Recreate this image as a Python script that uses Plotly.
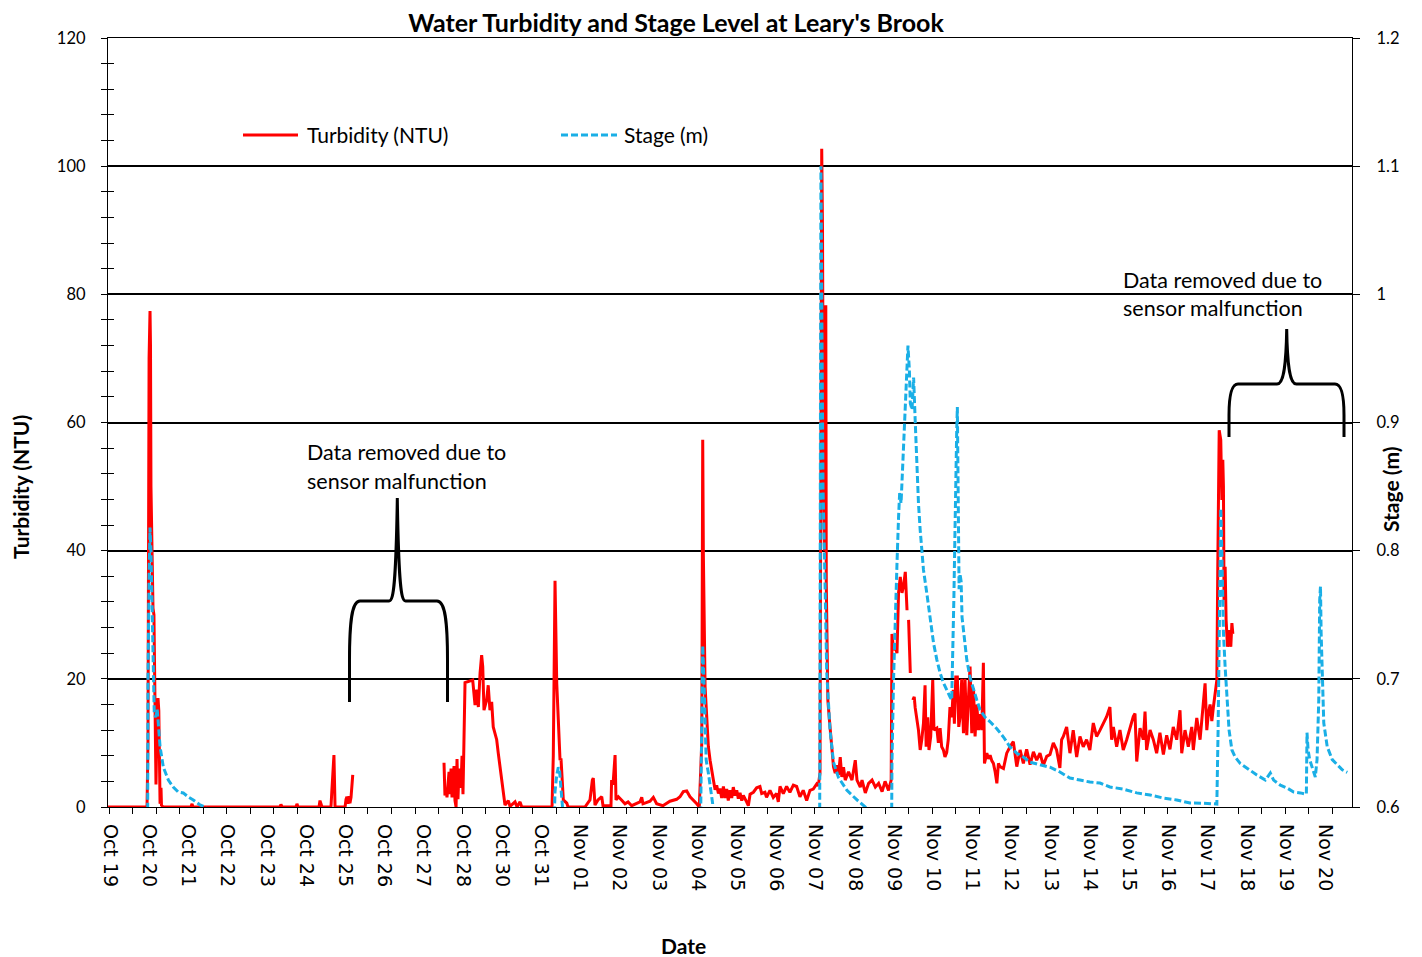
import pandas as pd
import plotly.graph_objects as go

# ---------------- data (elapsed hours since 2011-10-19 13:45) ----------------
START = pd.Timestamp("2011-10-19 13:45")

turb_hours = [
    0, 24.9, 25.5, 25.8, 26.2, 26.8, 27.1, 27.4, 27.9, 28.4, 28.7, 29.3, 29.7, 30.3, 30.6, 31.3, 31.9, 32.4,
    32.7, 33.2, 33.8, 34.1, 35.1, 52.9, 53.6, 54.2, 109.7, 110.3, 111.0, 119.9, 120.5, 121.2, 134.6, 135.2,
    136.5, 142.2, 142.7, 143.5, 144.1, 144.8, 151.2, 151.8, 152.4, 153.1, 153.7, 154.3, 155.0, 156.1, 157.0,
    214.3, 214.9, 215.6, 216.2, 217.5, 218.1, 218.8, 219.4, 220.0, 220.7, 221.3, 222.0, 222.6, 223.2, 223.9,
    225.1, 225.8, 226.4, 227.0, 227.7, 232.6, 234.1, 235.2, 236.2, 237.3, 238.3, 239.0, 239.8, 241.5, 242.5,
    243.6, 244.7, 245.7, 247.9, 248.9, 250.0, 251.1, 252.1, 253.2, 255.3, 256.4, 259.6, 260.9, 262.8, 263.9,
    283.2, 284.0, 285.1, 286.2, 287.2, 288.3, 288.9, 289.6, 290.4, 292.6, 293.4, 304.2, 307.4, 308.9, 309.5,
    310.6, 312.5, 314.9, 315.7, 320.8, 321.2, 322.1, 323.4, 324.0, 325.5, 327.8, 329.7, 331.7, 334.0, 339.3,
    340.4, 341.2, 345.7, 347.8, 349.9, 353.9, 358.4, 362.7, 364.8, 366.9, 369.1, 371.2, 373.3, 375.5, 377.1,
    378.7, 379.3, 379.7, 380.8, 381.9, 382.9, 384.0, 385.1, 386.1, 387.2, 388.2, 389.3, 390.3, 391.4, 392.5,
    393.5, 394.6, 395.6, 396.7, 397.8, 398.8, 399.9, 401.0, 402.0, 403.1, 404.2, 405.2, 407.3, 408.4, 409.5,
    411.6, 413.7, 415.8, 416.9, 419.0, 420.0, 422.2, 424.3, 426.4, 427.5, 428.6, 430.7, 432.8, 434.9, 437.1,
    439.2, 441.3, 443.4, 445.6, 447.7, 449.8, 452.0, 453.0, 454.1, 454.7, 455.2, 455.7, 456.3, 457.0, 457.3,
    457.8, 458.1, 458.4, 459.1, 460.1, 461.6, 462.7, 463.8, 464.8, 465.9, 467.0, 468.0, 469.1, 470.2, 472.3,
    474.5, 476.6, 477.7, 479.8, 480.9, 483.0, 485.1, 487.3, 489.4, 491.5, 493.7, 495.6, 497.8, 498.9, 499.5,
    500.0, 501.0, 502.1, 503.2, 504.2, 505.3, 506.4, 507.4, 508.5, 509.1, 509.6, 510.0, 510.6, 511.7, 512.5,
    513.3, 514.2, 514.8, 515.8, 516.9, 518.0, 519.0, 520.1, 521.1, 521.8, 522.8, 523.6, 524.7, 526.0, 526.8,
    528.6, 529.6, 530.7, 531.7, 532.8, 533.8, 534.9, 535.9, 537.0, 538.1, 539.1, 539.8, 540.7, 541.7, 542.6,
    543.4, 544.5, 545.6, 546.6, 547.7, 548.8, 549.8, 550.9, 552.0, 553.0, 554.1, 555.2, 556.2, 557.3, 558.3,
    559.0, 560.5, 561.6, 562.6, 563.7, 564.7, 565.8, 566.9, 567.9, 568.9, 571.1, 573.2, 575.3, 577.4, 579.6,
    581.7, 583.8, 585.9, 588.1, 590.2, 592.3, 594.4, 596.5, 598.7, 600.8, 602.9, 605.0, 607.1, 608.2, 609.3,
    611.4, 613.5, 615.6, 617.8, 619.9, 622.0, 624.1, 626.2, 628.4, 630.5, 632.7, 634.8, 636.9, 639.0, 640.1,
    641.2, 643.3, 645.4, 647.5, 649.7, 651.8, 653.9, 655.0, 656.1, 658.2, 660.3, 661.4, 662.4, 664.6, 666.7,
    668.8, 670.9, 673.1, 675.2, 677.3, 679.4, 681.6, 683.7, 684.8, 686.9, 689.0, 691.2, 692.2, 694.4, 696.5,
    698.6, 699.7, 700.8, 701.8, 702.9, 704.0, 705.0, 706.1, 707.2, 707.8, 708.7, 709.7, 710.4, 711.0, 711.4,
    711.8, 712.5, 713.1, 714.0, 715.0, 716.1, 716.8, 717.4,
]
turb_ntu = [
    0, 0, 10, 45, 70, 77.4, 72, 50, 43, 38, 31, 30, 18, 12, 3.5, 14, 17, 15,
    3, 0.5, 3, 0.3, 0, 0, 0.5, 0, 0, 0.4, 0, 0, 0.5, 0, 0, 1.0,
    0, 0, 2.2, 6, 8.1, 0, 0, 1.2, 1.6, 0.5, 1.7, 0.6, 1.5, 5.0, None,
    6.9, 1.8, 3, 1.5, 5.5, 2, 6, 1.5, 4, 6.4, 1, 0, 7.5, 1.2, 6,
    3, 8, 2, 10, 19.4, 19.8, 15.9, 18.3, 15.6, 20.9, 23.7, 21.9, 15.1, 16.7, 19,
    15.1, 16.4, 12.5, 10.5, 8.4, 6.3, 4.2, 1.6, 0.3, 1.0, 0.1, 0.8, 0, 0.8, 0,
    0, 8, 35.3, 19.3, 13.6, 7.3, 7.6, 3.2, 1.1, 0.6, 0, 0, 1.1, 4.2, 4.5,
    0.3, 1.1, 1.6, 0.2, 0.2, 4.2, 3.5, 8.1, 1.1, 1.6, 1.0, 0.5, 0.8, 0.2, 0.8,
    1.5, 0.5, 0.9, 1.5, 0.5, 0.2, 0.9, 1.2, 1.6, 2.4, 2.5, 1.6, 1.1, 0.5, 0,
    10, 57.3, 39.6, 18.8, 13.6, 9.4, 7.3, 5.3, 4.2, 2.7, 3.4, 2.1, 2.9, 1.4, 3.2,
    1.4, 2.8, 1.0, 2.6, 1.4, 3.1, 1.8, 2.6, 1.3, 2.2, 1.0, 1.8, 0.8, 0.2, 2.0,
    2.3, 3.0, 3.2, 2.1, 2.3, 1.5, 2.6, 1.5, 2.1, 0.8, 3.2, 2.1, 3.2, 2.3, 3.4,
    3.2, 1.6, 2.6, 1.0, 2.6, 2.8, 3.6, 3.3, 5.3, 60, 102.7, 90, 50, 40, 60,
    78.3, 35, 25.6, 16.7, 13.6, 10, 6.3, 5.3, 6.5, 5.0, 7.8, 4.7, 6.2, 4.2, 5.5,
    4.2, 7.3, 4.2, 3.1, 4.2, 2.2, 3.7, 4.2, 3.1, 3.7, 2.4, 4.0, 2.6, 3.7, 4.2,
    27, 24.5, 25, 24, 33.4, 35.9, 33.4, 34.5, 36.7, 31, 30.7, None, 29.2, 20.9, None,
    16.7, 17.2, 15.5, 14.1, 12, 8.9, 10.5, 13.1, 19.0, 9.4, 14.0, 8.9, 11, 19.8, 12,
    12.3, 10, 12.3, 9.4, 8.9, 7.8, 8.5, 10.5, 15.6, 14, 18.3, 13, 20.3, 20.3, 12.5,
    14, 20, 11.5, 20, 11.2, 17, 21.9, 11.5, 18.5, 11, 16, 12, 14.5, 12, 22.5,
    6.8, 8.4, 7.5, 8.1, 7.2, 6.8, 5.5, 3.7, 6.8, 6.3, 6.0, 8.4, 9.4, 10.2, 6.3,
    8.9, 6.8, 9.0, 6.6, 8.6, 7.3, 8.4, 6.5, 7.9, 8.2, 10, 8.9, 6.1, 10.5, 11,
    12.5, 8.4, 12.0, 7.8, 11, 9.4, 10.5, 8.9, 13.1, 11, 12, 13.1, 14.1, 15.6, 10.5,
    12.5, 9.4, 12, 8.9, 10.5, 12.5, 14.1, 14.6, 7.1, 12.3, 10.5, 14.9, 8.9, 12, 10.5,
    8.4, 11.6, 8.2, 11.2, 9.0, 12.5, 10.5, 15.1, 8.4, 12, 9.4, 12.5, 8.9, 13.9, 10.5,
    16.7, 19.3, 12, 14.6, 16, 13.4, 15.6, 17.8, 19.8, 37.5, 58.8, 57.3, 47.9, 54.2, 50,
    32.3, 37.5, 29.2, 25, 27.6, 25, 28.7, 27,
]

stage_hours = [
    25.3, 25.5, 26.2, 26.8, 27.4, 27.9, 28.5, 28.9, 29.5, 30.4, 31.4, 32.1, 33.2, 35.3, 38.5, 41.6, 44.8,
    48.0, 51.2, 54.4, 58.7, 62.9, 63.5,
    284.7, 285.1, 286.2, 287.2, 288.0, 289.4, 290.2, 290.8,
    378.0, 378.7, 379.3, 380.2, 380.8, 381.5, 382.9, 384.0, 385.1, 385.6, 385.9, 386.5,
    453.9, 454.4, 454.7, 455.2, 456.0, 457.3, 458.4, 460.5, 462.7, 465.9, 471.3, 477.7, 483.0, 484.0, 484.5,
    499.8, 500.0, 501.0, 502.1, 503.2, 504.2, 504.9, 505.8, 506.4, 507.1, 507.9, 508.5, 509.6, 510.2, 511.1,
    511.7, 512.8, 513.8, 514.8, 515.8, 516.9, 518.0, 519.0, 520.1, 522.2, 524.3, 526.5, 528.6, 530.7, 532.8,
    534.9, 537.0, 538.1, 538.7, 539.5, 540.2, 540.6, 541.3, 541.7, 542.3, 542.8, 543.4, 544.1, 544.7, 546.6,
    547.7, 549.8, 552.0, 554.1, 556.2, 559.4, 562.6, 566.9, 571.1, 575.3, 579.6, 583.8, 588.1, 594.4, 600.8,
    607.1, 613.5, 619.9, 626.2, 632.7, 639.0, 647.5, 656.1, 664.6, 673.1, 681.6, 690.1, 698.6, 707.2, 708.0,
    709.0, 709.7, 710.4, 710.9, 711.4, 712.5, 713.6, 715.0, 716.8, 718.9, 722.1, 726.3, 732.7, 738.1, 741.3,
    743.4, 747.7, 752.0, 756.2, 760.5, 764.3, 764.7, 765.4, 766.4, 767.9, 770.0, 771.1, 772.2, 772.8, 773.3,
    773.7, 774.4, 775.4, 777.6, 780.8, 784.0, 787.2, 790.4,
]
stage_m = [
    0.59, 0.70, 0.78, 0.818, 0.80, 0.7615, 0.722, 0.697, 0.673, 0.670, 0.676, 0.665, 0.647, 0.631, 0.621,
    0.6156, 0.6117, 0.611, 0.6078, 0.6055, 0.6016, 0.5995, None,
    0.595, 0.612, 0.625, 0.631, 0.628, 0.608, 0.595, None,
    0.595, 0.66, 0.726, 0.694, 0.655, 0.6367, 0.6265, 0.616, 0.6055, 0.603, 0.59, None,
    0.59, 0.9, 1.10, 1.0, 0.85, 0.775, 0.705, 0.66, 0.635, 0.623, 0.613, 0.6055, 0.600, 0.59, None,
    0.59, 0.634, 0.699, 0.751, 0.79, 0.826, 0.845, 0.837, 0.855, 0.881, 0.894, 0.91, 0.946, 0.96, 0.941,
    0.915, 0.91, 0.935, 0.902, 0.863, 0.837, 0.816, 0.80, 0.785, 0.767, 0.748, 0.728, 0.715, 0.7045, 0.697,
    0.691, 0.686, 0.6835, 0.712, 0.764, 0.816, 0.863, 0.894, 0.912, 0.83, 0.77, 0.782, 0.776, 0.748, 0.73,
    0.715, 0.701, 0.691, 0.6835, 0.6757, 0.670, 0.6665, 0.661, 0.6546, 0.6468, 0.642, 0.639, 0.635, 0.6328, 0.631,
    0.6273, 0.6226, 0.621, 0.6195, 0.6187, 0.6156, 0.614, 0.611, 0.6094, 0.607, 0.6055, 0.6031, 0.603, 0.6023, 0.66,
    0.76, 0.833, 0.798, 0.7615, 0.736, 0.709, 0.6835, 0.66, 0.6445, 0.639, 0.634, 0.6304, 0.625, 0.621, 0.6265,
    0.621, 0.617, 0.6148, 0.6117, 0.611, 0.61, 0.658, 0.6445, 0.637, 0.631, 0.6234, 0.637, 0.6835, 0.7615, 0.772,
    0.736, 0.697, 0.6655, 0.647, 0.637, 0.633, 0.629, 0.627,
]

date_labels = [
    "Oct 19", "Oct 20", "Oct 21", "Oct 22", "Oct 23", "Oct 24", "Oct 25", "Oct 26", "Oct 27", "Oct 28",
    "Oct 30", "Oct 31", "Nov 01", "Nov 02", "Nov 03", "Nov 04", "Nov 05", "Nov 06", "Nov 07", "Nov 08",
    "Nov 09", "Nov 10", "Nov 11", "Nov 12", "Nov 13", "Nov 14", "Nov 15", "Nov 16", "Nov 17", "Nov 18",
    "Nov 19", "Nov 20",
]
turb_ticks = [0, 20, 40, 60, 80, 100, 120]
stage_ticks = [0.6, 0.7, 0.8, 0.9, 1.0, 1.1, 1.2]
stage_tick_text = ["0.6", "0.7", "0.8", "0.9", "1", "1.1", "1.2"]

# ---------------- layout helpers (screen pixels; page body adds an 8 px offset) ----------------
OFF = 8
W, H = 1422 - OFF, 957 - OFF
L, R, T, B = 108, 1352, 38, 807          # plot area on screen


def pxx(x):
    return (x - L) / (R - L)


def pxy(y):
    return (B - y) / (B - T)


def svg_path(cmds):
    parts = []
    for op, pts in cmds:
        parts.append(op + " " + ", ".join(f"{pxx(x):.5f} {pxy(y):.5f}" for x, y in pts))
    return " ".join(parts)


t_turb = START + pd.to_timedelta(turb_hours, unit="h")
t_stage = START + pd.to_timedelta(stage_hours, unit="h")
label_pos = [START + pd.Timedelta(hours=1.25 + 25 * k) for k in range(len(date_labels))]
x_range = [START, START + pd.Timedelta(hours=793.4)]

RED = "#FF0000"
BLUE = "#1AAFE6"
FONT = "Lato"

fig = go.Figure()
fig.add_trace(go.Scatter(x=t_turb, y=turb_ntu, mode="lines", name="Turbidity (NTU)",
                         line=dict(color=RED, width=3), connectgaps=False, yaxis="y"))
fig.add_trace(go.Scatter(x=t_stage, y=stage_m, mode="lines", name="Stage (m)",
                         line=dict(color=BLUE, width=3, dash="7px,3px"), connectgaps=False, yaxis="y2"))
# helper trace so the overlay tick axis is drawn
fig.add_trace(go.Scatter(x=[x_range[0]], y=[None], yaxis="y3", showlegend=False, hoverinfo="skip"))

fig.update_layout(
    width=W, height=H,
    margin=dict(l=L - OFF, r=1422 - R, t=T - OFF, b=957 - B),
    paper_bgcolor="white", plot_bgcolor="white",
    showlegend=False,
    font=dict(family=FONT, color="black"),
    title=dict(text="<b>Water Turbidity and Stage Level at Leary's Brook</b>",
               x=(676 - OFF) / W, xanchor="center", xref="container",
               y=1 - (23 - OFF) / H, yanchor="middle", yref="container",
               font=dict(family=FONT, size=25, color="black")),
    xaxis=dict(
        type="date", range=x_range,
        tickmode="array", tickvals=label_pos, ticktext=date_labels,
        ticks="", tickangle=90, ticklabelstandoff=12,
        tickfont=dict(family="DejaVu Sans", size=19, color="black"),
        showline=True, linecolor="black", linewidth=1.3, mirror=True,
        showgrid=False, zeroline=False, layer="below traces",
        minor=dict(tickmode="linear",
                   tick0=START + pd.Timedelta(hours=0.8),
                   dtick=15 * 3600 * 1000,
                   ticks="outside", ticklen=6, tickcolor="black", tickwidth=1.2,
                   showgrid=False),
    ),
    yaxis=dict(
        range=[0, 120], tickmode="array", tickvals=turb_ticks,
        ticks="outside", ticklen=6, tickcolor="black", tickwidth=1.2,
        tickfont=dict(family=FONT, size=16.5, color="black"),
        showline=True, linecolor="black", linewidth=1.3,
        showgrid=True, gridcolor="black", gridwidth=1.5,
        zeroline=False, layer="below traces", ticklabelstandoff=12,
        minor=dict(dtick=4, tick0=0, ticks="outside", ticklen=6, tickcolor="black",
                   tickwidth=1.2, showgrid=False),
    ),
    yaxis2=dict(
        range=[0.6, 1.2], overlaying="y", side="right", anchor="x",
        tickmode="array", tickvals=stage_ticks, ticktext=stage_tick_text,
        ticks="outside", ticklen=7, tickcolor="black", tickwidth=1.2,
        tickfont=dict(family=FONT, size=16.5, color="black"),
        showline=True, linecolor="black", linewidth=1.3,
        showgrid=False, zeroline=False, layer="below traces", ticklabelstandoff=13,
    ),
    yaxis3=dict(
        range=[0, 120], overlaying="y", side="left", anchor="x",
        tickmode="linear", tick0=0, dtick=4, ticks="inside", ticklen=6,
        tickcolor="black", tickwidth=1.2, showticklabels=False,
        showline=False, showgrid=False, zeroline=False,
    ),
)

ann = []
# axis titles
ann.append(dict(text="<b>Turbidity (NTU)</b>", x=pxx(20), y=pxy(487), textangle=-90,
                font=dict(size=21)))
ann.append(dict(text="<b>Stage (m)</b>", x=pxx(1390), y=pxy(490), textangle=-90,
                font=dict(size=21)))
ann.append(dict(text="<b>Date</b>", x=pxx(683), y=pxy(945), font=dict(size=21)))
# legend texts
ann.append(dict(text="Turbidity (NTU)", x=pxx(305), y=pxy(135), xanchor="left", font=dict(size=21)))
ann.append(dict(text="Stage (m)", x=pxx(622), y=pxy(135), xanchor="left", font=dict(size=21)))
# notes
ann.append(dict(text="Data removed due to", x=pxx(305), y=pxy(452), xanchor="left", font=dict(size=21.5)))
ann.append(dict(text="sensor malfunction", x=pxx(305), y=pxy(481), xanchor="left", font=dict(size=21.5)))
ann.append(dict(text="Data removed due to", x=pxx(1121), y=pxy(280), xanchor="left", font=dict(size=21.5)))
ann.append(dict(text="sensor malfunction", x=pxx(1121), y=pxy(308), xanchor="left", font=dict(size=21.5)))
for a in ann:
    a.update(xref="paper", yref="paper", showarrow=False, yanchor="middle")
    a.setdefault("xanchor", "center")
    a["font"].update(family=FONT, color="black")
fig.update_layout(annotations=ann)

shapes = []
# legend samples
shapes.append(dict(type="line", xref="paper", yref="paper", x0=pxx(243), x1=pxx(298), y0=pxy(135), y1=pxy(135),
                   line=dict(color=RED, width=3)))
shapes.append(dict(type="line", xref="paper", yref="paper", x0=pxx(561), x1=pxx(617), y0=pxy(135), y1=pxy(135),
                   line=dict(color=BLUE, width=3, dash="7px,3px")))
# curly brackets
br1 = [("M", [(349.5, 702)]), ("L", [(349.5, 660)]),
       ("C", [(349.5, 620), (352, 601), (360, 601)]), ("L", [(389, 601)]),
       ("C", [(394, 601), (396, 580), (397.3, 498)]),
       ("C", [(398.6, 580), (400.6, 601), (405.6, 601)]), ("L", [(437, 601)]),
       ("C", [(445, 601), (447.5, 620), (447.5, 660)]), ("L", [(447.5, 702)])]
br2 = [("M", [(1229, 437)]), ("L", [(1229, 415)]),
       ("C", [(1229, 395), (1232, 384), (1238, 384)]), ("L", [(1277, 384)]),
       ("C", [(1283, 384), (1286, 370), (1286.7, 329)]),
       ("C", [(1287.4, 370), (1290.4, 384), (1296.4, 384)]), ("L", [(1335, 384)]),
       ("C", [(1341, 384), (1344, 395), (1344, 415)]), ("L", [(1344, 437)])]
for br in (br1, br2):
    shapes.append(dict(type="path", xref="paper", yref="paper", path=svg_path(br),
                       line=dict(color="black", width=3)))
fig.update_layout(shapes=shapes)

fig.write_html("out.html")
